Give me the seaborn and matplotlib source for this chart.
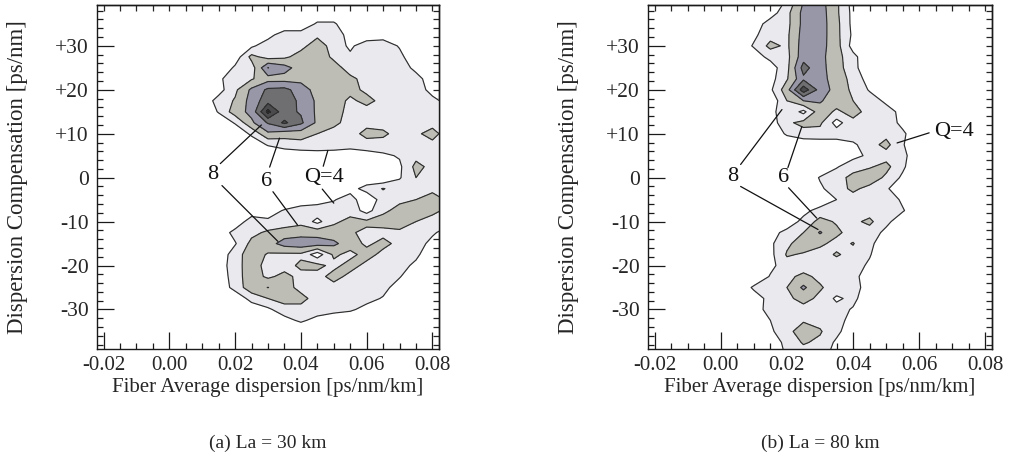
import numpy as np
import matplotlib
matplotlib.use("Agg")
import matplotlib.pyplot as plt
from matplotlib.ticker import MultipleLocator
import seaborn as sns

# ---------------------------------------------------------------- data
# Grid of dispersion compensation values [ps/nm] (rows, top to bottom)
compensation = [40, 37.5, 35, 32.5, 30, 27.5, 25, 22.5, 20, 17.5, 15, 12.5, 10,
                7.5, 5, 2.5, 0, -2.5, -5, -7.5, -10, -12.5, -15, -17.5, -20,
                -22.5, -25, -27.5, -30, -32.5, -35, -37.5, -40]

# Fiber average dispersion [ps/nm/km] (columns)
dispersion_30km = [0.010, 0.015, 0.020, 0.025, 0.030, 0.035, 0.040, 0.045,
                   0.050, 0.055, 0.060, 0.065, 0.070, 0.075, 0.080, 0.085]
dispersion_80km = [0.005, 0.010, 0.015, 0.020, 0.025, 0.030, 0.035, 0.040,
                   0.045, 0.050, 0.055, 0.060, 0.065]

# Q factor map, La = 30 km
q_30km = [
    [3, 3, 3, 3, 3, 3, 3, 3, 3, 3, 3, 3, 3, 3, 3, 3],
    [3, 3, 3, 3, 3, 3, 3, 3, 3, 3, 3, 3, 3, 3, 3, 3],
    [3, 3, 3, 3, 3, 3, 3, 4.2, 4.2, 3, 3, 3, 3, 3, 3, 3],
    [3, 3, 3, 3, 3.6, 4.6, 4.6, 4.8, 4.6, 3.6, 3.3, 3.5, 3, 3, 3, 3],
    [3, 3, 3, 3.8, 4.6, 4.6, 4.7, 5.5, 4.6, 3.8, 4.6, 4.6, 3.9, 3, 3, 3],
    [3, 3, 3.4, 5.3, 4.6, 4.8, 5.4, 5.6, 4.8, 4.2, 4.7, 4.7, 4.3, 3.2, 3, 3],
    [3, 3, 4.2, 4.5, 7.02, 6.4, 5.5, 5.6, 5.4, 4.6, 4.6, 4.7, 4.6, 3.7, 3, 3],
    [3, 3.8, 4.6, 4.9, 5.6, 5.6, 5.7, 5.6, 5.6, 5.2, 4.7, 4.8, 4.7, 4.4, 3.4, 3],
    [3, 3.6, 4.8, 6.2, 7.2, 7.3, 6.5, 5.6, 5.6, 5.3, 4.8, 4.6, 4.6, 4.6, 3.6, 3],
    [3.3, 4.4, 5.1, 6.4, 7.6, 7.5, 6.8, 5.8, 5.5, 4.8, 5.3, 4.7, 4.6, 4.6, 4.3, 3.6],
    [3, 4.1, 5.5, 6.3, 9.3, 7.3, 6.9, 5.8, 5.4, 4.7, 4.6, 4.6, 4.6, 4.6, 4.5, 3.8],
    [3, 3.2, 4.1, 5.8, 7.1, 8.2, 7.2, 5.8, 5.2, 4.7, 4.7, 4.6, 4.6, 4.6, 4.6, 4.3],
    [3, 3, 3.2, 4.2, 5.8, 5.4, 5.5, 5.0, 4.7, 4.6, 5.3, 5.2, 4.6, 4.8, 5.4, 4.4],
    [3, 3, 3, 3.3, 4.1, 4.5, 4.6, 4.6, 4.6, 4.5, 4.6, 4.6, 4.6, 4.6, 4.7, 4.5],
    [3, 3, 3, 3, 3, 3.2, 3.4, 3.5, 3.4, 3.2, 3.5, 3.8, 4.1, 4.7, 4.6, 4.4],
    [3, 3, 3, 3, 3, 3, 3, 3, 3, 3, 3, 3, 3.8, 5.3, 4.7, 4.3],
    [3, 3, 3, 3, 3, 3, 3, 3, 3, 3, 3, 3, 3.9, 5.0, 4.6, 4.3],
    [3, 3, 3, 3, 3, 3, 3, 3, 3, 3.5, 4.5, 5.05, 4.6, 4.6, 4.7, 4.5],
    [3, 3, 3, 3, 3, 3, 3.2, 3.5, 3.9, 4.6, 3.0, 4.6, 4.8, 5.0, 5.5, 4.8],
    [3, 3, 3, 3.3, 3.5, 4.1, 4.6, 4.6, 4.6, 4.6, 3.6, 4.8, 5.3, 5.5, 5.2, 4.8],
    [3, 3, 3.2, 4.6, 4.2, 4.4, 4.7, 3.7, 4.8, 5.3, 5.2, 5.4, 5.5, 5.0, 4.7, 4.4],
    [3, 3.2, 4.4, 4.7, 5.2, 5.5, 5.6, 5.6, 5.5, 5.1, 4.8, 4.7, 4.8, 4.6, 4.2, 3.4],
    [3, 3, 3.9, 5.3, 5.6, 6.4, 6.6, 6.5, 6.2, 5.5, 4.8, 5.3, 4.7, 4.6, 3.6, 3],
    [3, 3.2, 4.6, 5.5, 4.9, 4.8, 4.8, 3.4, 5.2, 4.7, 5.4, 4.7, 4.6, 4.3, 3, 3],
    [3, 3.3, 4.7, 5.4, 4.7, 4.6, 5.2, 5.3, 4.7, 5.4, 4.7, 4.6, 4.5, 3.7, 3, 3],
    [3, 3.2, 4.6, 5.5, 4.8, 5.3, 4.7, 4.6, 5.4, 4.7, 4.6, 4.5, 4.1, 3, 3, 3],
    [3, 3.2, 4.4, 5.6, 6.02, 5.4, 4.7, 4.6, 4.6, 4.6, 4.6, 4.4, 3.4, 3, 3, 3],
    [3, 3, 3.2, 4.4, 5.0, 5.4, 5.3, 4.6, 4.6, 4.5, 4.4, 3.9, 3, 3, 3, 3],
    [3, 3, 3, 3.3, 3.8, 4.6, 4.7, 4.6, 4.5, 4.2, 3.6, 3, 3, 3, 3, 3],
    [3, 3, 3, 3, 3, 3.6, 4.2, 3.6, 3, 3, 3, 3, 3, 3, 3, 3],
    [3, 3, 3, 3, 3, 3, 3, 3, 3, 3, 3, 3, 3, 3, 3, 3],
    [3, 3, 3, 3, 3, 3, 3, 3, 3, 3, 3, 3, 3, 3, 3, 3],
    [3, 3, 3, 3, 3, 3, 3, 3, 3, 3, 3, 3, 3, 3, 3, 3],
]

# Q factor map, La = 80 km
q_80km = [
    [3, 3, 3, 4.2, 6.05, 6.4, 5.2, 3.6, 3, 3, 3, 3, 3],
    [3, 3, 3.5, 4.7, 6.3, 6.5, 5.2, 3.7, 3, 3, 3, 3, 3],
    [3, 3.4, 4.5, 4.7, 6.3, 6.5, 5.3, 3.7, 3, 3, 3, 3, 3],
    [3, 3.8, 4.6, 4.8, 6.4, 6.5, 5.3, 3.8, 3, 3, 3, 3, 3],
    [3.3, 4.1, 5.3, 4.8, 6.5, 6.4, 5.4, 3.6, 3, 3, 3, 3, 3],
    [3, 3.5, 4.3, 4.7, 6.6, 6.3, 5.4, 4.3, 3.2, 3, 3, 3, 3],
    [3, 3, 3.5, 4.7, 7.4, 6.3, 5.5, 4.3, 3.3, 3, 3, 3, 3],
    [3, 3, 3.6, 4.9, 6.8, 6.4, 5.5, 4.7, 3.5, 3, 3, 3, 3],
    [3, 3, 3.8, 5.6, 8.6, 6.6, 5.6, 4.8, 3.9, 3.3, 3, 3, 3],
    [3, 3, 3.2, 5.0, 6.0, 6.1, 5.5, 5.0, 4.5, 3.8, 3, 3, 3],
    [3, 3, 3.6, 4.8, 3.7, 5.6, 4.8, 5.4, 4.6, 4.4, 3.7, 3, 3],
    [3, 3, 3.4, 4.8, 5.3, 5.2, 3.6, 4.7, 4.6, 4.6, 3.7, 3, 3],
    [3, 3, 3, 4.2, 4.6, 4.6, 4.5, 4.6, 4.6, 4.7, 4.2, 3.2, 3],
    [3, 3, 3, 3, 3.3, 3.4, 3.5, 3.8, 4.6, 5.3, 4.1, 3, 3],
    [3, 3, 3, 3, 3, 3, 3, 3.7, 4.2, 4.6, 4.3, 3.2, 3],
    [3, 3, 3, 3, 3, 3, 3.9, 4.6, 4.9, 5.3, 4.2, 3, 3],
    [3, 3, 3, 3, 3, 4.1, 4.6, 5.3, 5.6, 4.8, 3.8, 3, 3],
    [3, 3, 3, 3, 3, 3.8, 4.6, 5.2, 4.7, 4.1, 3.5, 3, 3],
    [3, 3, 3, 3, 3, 3, 4.0, 4.6, 4.6, 4.7, 3.8, 3, 3],
    [3, 3, 3, 3, 3.6, 4.5, 4.6, 4.6, 4.6, 4.6, 4.1, 3.2, 3],
    [3, 3, 3, 3.2, 4.4, 5.3, 4.9, 4.8, 5.2, 4.3, 3.3, 3, 3],
    [3, 3, 3.5, 4.4, 5.0, 6.1, 5.2, 4.6, 4.6, 3.7, 3, 3, 3],
    [3, 3, 3.8, 4.8, 5.5, 5.2, 4.7, 5.05, 4.3, 3.2, 3, 3, 3],
    [3, 3, 3.7, 5.1, 4.9, 4.6, 5.1, 4.7, 4.1, 3, 3, 3, 3],
    [3, 3, 3.7, 4.6, 4.6, 4.6, 4.6, 4.5, 3.8, 3, 3, 3, 3],
    [3, 3, 4.1, 4.8, 5.2, 4.8, 4.6, 4.4, 3.3, 3, 3, 3, 3],
    [3, 4.2, 4.3, 5.0, 6.2, 5.1, 4.6, 4.6, 3.3, 3, 3, 3, 3],
    [3, 3.4, 4.4, 4.8, 5.3, 4.8, 3.8, 4.3, 3.2, 3, 3, 3, 3],
    [3, 3.5, 4.4, 4.6, 4.7, 4.6, 4.4, 3.9, 3, 3, 3, 3, 3],
    [3, 3, 4.0, 4.6, 4.9, 4.7, 4.4, 3.6, 3, 3, 3, 3, 3],
    [3, 3, 3.8, 4.7, 5.5, 5.1, 4.3, 3.2, 3, 3, 3, 3, 3],
    [3, 3, 3.2, 4.4, 5.1, 4.8, 3.8, 3, 3, 3, 3, 3, 3],
    [3, 3, 3, 4.2, 4.6, 4.5, 3.6, 3, 3, 3, 3, 3, 3],
]

q_levels = [4, 5, 6, 7, 8, 9, 10]
x_ticks = [-0.02, 0.00, 0.02, 0.04, 0.06, 0.08]
x_ticklabels = ["-0.02", "0.00", "0.02", "0.04", "0.06", "0.08"]
y_ticks = [30, 20, 10, 0, -10, -20, -30]
y_ticklabels = ["+30", "+20", "+10", "0", "-10", "-20", "-30"]
captions = ["(a) La = 30 km", "(b) La = 80 km"]

# Contour labels: text, text position, leader line segments
labels_30km = [
    ("8", (0.0133, 0.8), [((0.0155, 3.2), (0.0280, 12.0)),
                          ((0.0160, -1.8), (0.0330, -14.5))]),
    ("6", (0.0297, -0.8), [((0.0305, 2.4), (0.0335, 9.0)),
                           ((0.0315, -3.2), (0.0390, -10.8))]),
    ("Q=4", (0.0470, 0.0), [((0.0468, 2.6), (0.0482, 6.2)),
                            ((0.0465, -2.6), (0.0500, -5.8))]),
]
labels_80km = [
    ("8", (0.0036, 0.3), [((0.0060, 3.0), (0.0185, 15.5)),
                          ((0.0060, -2.0), (0.0294, -11.8))]),
    ("6", (0.0189, 0.0), [((0.0203, 2.3), (0.0245, 11.6)),
                          ((0.0205, -2.3), (0.0290, -9.2))]),
    ("Q=4", (0.0705, 10.5), [((0.0630, 10.2), (0.0533, 7.9))]),
]

# ---------------------------------------------------------------- style
sns.set_style("ticks")
plt.rcParams["font.family"] = ["Liberation Serif", "DejaVu Serif"]
plt.rcParams["axes.linewidth"] = 1.0
plt.rcParams["axes.edgecolor"] = "#1a1a1a"

fill_colors = sns.blend_palette(["#e9e9ee", "#bdbdb5", "#9797a8", "#6f6f72",
                                 "#4b4b4d", "#222222"], 6)
line_color = "#2e2e2e"

fig = plt.figure(figsize=(10.11, 4.59), dpi=100)
ax_a = fig.add_axes([97 / 1011, 110 / 459, 342 / 1011, 344 / 459])
ax_b = fig.add_axes([648 / 1011, 110 / 459, 344 / 1011, 344 / 459])

panels = [
    (ax_a, dispersion_30km, q_30km, labels_30km),
    (ax_b, dispersion_80km, q_80km, labels_80km),
]

for i, (ax, disp, qmap, lab) in enumerate(panels):
    X, Y = np.meshgrid(np.array(disp), np.array(compensation))
    Q = np.array(qmap, dtype=float)
    ax.contourf(X, Y, Q, levels=q_levels, colors=fill_colors, extend="neither")
    ax.contour(X, Y, Q, levels=q_levels, colors=line_color, linewidths=0.85)

    ax.set_xlim(-0.022, 0.082)
    ax.set_ylim(-39.0, 39.3)
    ax.set_xticks(x_ticks)
    ax.set_xticklabels(x_ticklabels, fontsize=15)
    ax.set_yticks(y_ticks)
    ax.set_yticklabels(y_ticklabels, fontsize=15.5)
    ax.xaxis.set_minor_locator(MultipleLocator(0.005))
    ax.yaxis.set_minor_locator(MultipleLocator(2))
    ax.tick_params(which="both", direction="in", top=False, right=False,
                   color="#1a1a1a", width=0.9)
    ax.tick_params(which="major", length=12, pad=6)
    ax.tick_params(axis="x", which="major", pad=5)
    ax.tick_params(which="minor", length=4)

    # short ticks along the top and right edges
    top = ax.secondary_xaxis("top")
    top.set_xticks(np.arange(-0.02, 0.0801, 0.005))
    top.tick_params(direction="in", length=4, width=0.9, labeltop=False)
    right = ax.secondary_yaxis("right")
    right.set_yticks(np.arange(-38, 39, 2))
    right.tick_params(direction="in", length=4, width=0.9, labelright=False)

    ax.set_xlabel("Fiber Average dispersion [ps/nm/km]", fontsize=15)
    ax.xaxis.set_label_coords(0.5, -0.113, transform=ax.transAxes)
    ax.xaxis.label.set_va("center")
    ax.set_ylabel("Dispersion Compensation [ps/nm]", fontsize=16.5)
    ax.yaxis.set_label_coords(-0.232, 0.5, transform=ax.transAxes)
    ax.yaxis.label.set_va("center")

    ax.text(0.5, -0.273, captions[i], transform=ax.transAxes, ha="center",
            va="center", fontsize=14)

    for text, pos, segs in lab:
        for start, end in segs:
            ax.annotate("", xy=end, xytext=start,
                        arrowprops=dict(arrowstyle="-", color="#111111",
                                        lw=0.9, shrinkA=0, shrinkB=0))
        ax.text(pos[0], pos[1], text, ha="center", va="center",
                fontsize=16, color="#111111")

fig.savefig("out.png", dpi=100)
